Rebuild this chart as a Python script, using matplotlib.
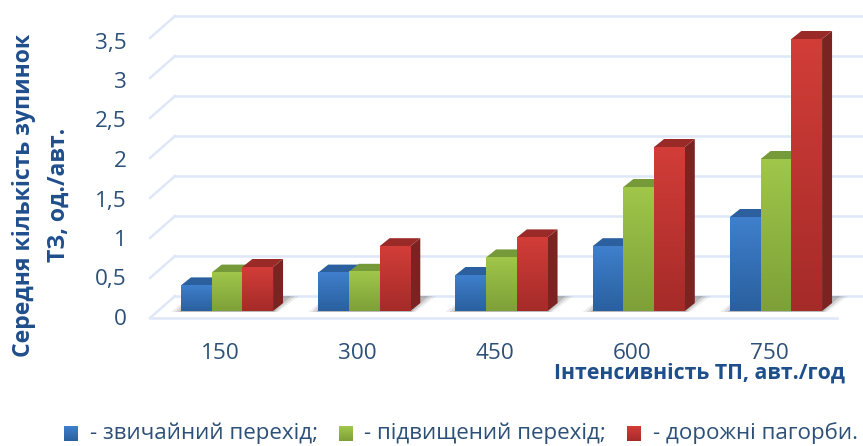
import numpy as np
import matplotlib
matplotlib.use("Agg")
import matplotlib.pyplot as plt
from matplotlib.patches import Polygon
from matplotlib.colors import LinearSegmentedColormap

categories = ["150", "300", "450", "600", "750"]
series_names = ["- звичайний перехід;", "- підвищений перехід;", "- дорожні пагорби."]
plain = [0.32, 0.48, 0.45, 0.81, 1.175]
raised = [0.48, 0.49, 0.67, 1.55, 1.90]
humps = [0.55, 0.81, 0.92, 2.05, 3.40]
y_ticks = [0, 0.5, 1, 1.5, 2, 2.5, 3, 3.5]
y_tick_labels = ["0", "0,5", "1", "1,5", "2", "2,5", "3", "3,5"]
front_cols = [("#3f7fcc", "#2a609f"), ("#a0c64a", "#7ea038"), ("#d23d38", "#a52b29")]
top_cols = ["#2c5f9e", "#76993a", "#9a2a28"]
side_cols = ["#234f85", "#5f7f2c", "#7a2321"]
TXT = "#2d5078"
LAB = "#1f4e8c"
GRID = "#dfe8f8"
FONT = "Open Sans"

W, H = 863, 446
fig = plt.figure(figsize=(W / 100, H / 100), dpi=100)
ax = fig.add_axes([0, 0, 1, 1])
ux, uy = 137.25, 80.0         # pixels per category / per unit
x0, y0 = 227.0, 311.0         # pixel position of first group centre and of value 0
limx = (-x0 / ux, (W - x0) / ux)
limy = ((y0 - H) / uy, y0 / uy)
dx = lambda p: p / ux
dy = lambda p: p / uy
ax.axis("off")

# back wall grid and left side grid
gx_front, gx_back = dx(150 - x0), dx(175 - x0)
front_off, back_off = dy(-7), dy(15)
for t in y_ticks:
    ax.plot([gx_front, gx_back], [t + front_off, t + back_off], color=GRID, lw=1.8, zorder=1)
    ax.plot([gx_back, limx[1]], [t + back_off] * 2, color=GRID, lw=1.8, zorder=1)
ax.plot([gx_front, dx(837 - x0)], [front_off] * 2, color=GRID, lw=1.8, zorder=1)

bw = dx(30.7)
ddx, ddy = dx(10), dy(8)
for i in range(len(categories)):
    left = i - 1.5 * bw
    right = i + 1.5 * bw
    # soft floor shadow under each group
    for k, a in zip([10, 6, 2], [0.12, 0.2, 0.3]):
        ax.add_patch(Polygon([(left - dx(k), dy(-1)), (right + dx(k / 2), dy(-1)),
                              (right + ddx + dx(k + 6), dy(15)), (left + ddx, dy(15))],
                             closed=True, fc="#777777", ec="none", alpha=a, zorder=2))
    for j, vals in enumerate([plain, raised, humps]):
        v = vals[i]
        l = i + (j - 1.5) * bw
        r = l + bw
        z = 3 + j
        ax.add_patch(Polygon([(r, 0), (r + ddx, ddy), (r + ddx, v + ddy), (r, v)],
                             closed=True, fc=side_cols[j], ec="none", zorder=z))
        ax.add_patch(Polygon([(l, v), (r, v), (r + ddx, v + ddy), (l + ddx, v + ddy)],
                             closed=True, fc=top_cols[j], ec="none", zorder=z))
        cmap = LinearSegmentedColormap.from_list("f", [front_cols[j][0], front_cols[j][1]])
        ax.imshow(np.linspace(0, 1, 64).reshape(-1, 1), cmap=cmap, extent=(l, r, 0, v),
                  aspect="auto", origin="upper", zorder=z + 0.1, interpolation="bilinear")

# tick labels
for t, s in zip(y_ticks, y_tick_labels):
    ax.text(dx(127 - x0), t * 79 / 80 + dy(-8.5), s, ha="right", va="center", fontsize=16.2, color=TXT, family=FONT)
for i, s in enumerate(categories):
    ax.text(i - dx(7), dy(311 - 353.5), s, ha="center", va="center", fontsize=16.2, color=TXT, family=FONT)

# axis titles
ax.text(dx(24 - x0), dy(311 - 195), "Середня кількість зупинок", rotation=90, ha="center", va="center",
        fontsize=16.6, fontweight="bold", color=LAB, family=FONT)
ax.text(dx(59 - x0), dy(311 - 195), "ТЗ, од./авт.", rotation=90, ha="center", va="center",
        fontsize=16.6, fontweight="bold", color=LAB, family=FONT)
ax.text(dx(699 - x0), dy(311 - 373), "Інтенсивність ТП, авт./год", ha="center", va="center",
        fontsize=15.3, fontweight="bold", color=LAB, family=FONT)

# legend
for xs, xt, name, cols in zip([64, 339, 627], [90, 364, 653], series_names, front_cols):
    cmap = LinearSegmentedColormap.from_list("l", [cols[0], cols[1]])
    ax.imshow(np.linspace(0, 1, 32).reshape(-1, 1), cmap=cmap,
              extent=(dx(xs - x0), dx(xs + 14 - x0), dy(311 - 441), dy(311 - 426)),
              aspect="auto", origin="upper", zorder=5)
    ax.text(dx(xt - x0), dy(311 - 433), name, ha="left", va="center", fontsize=16.1, color=TXT, family=FONT)

ax.set_xlim(*limx)
ax.set_ylim(*limy)
fig.savefig("out.png", dpi=100)
